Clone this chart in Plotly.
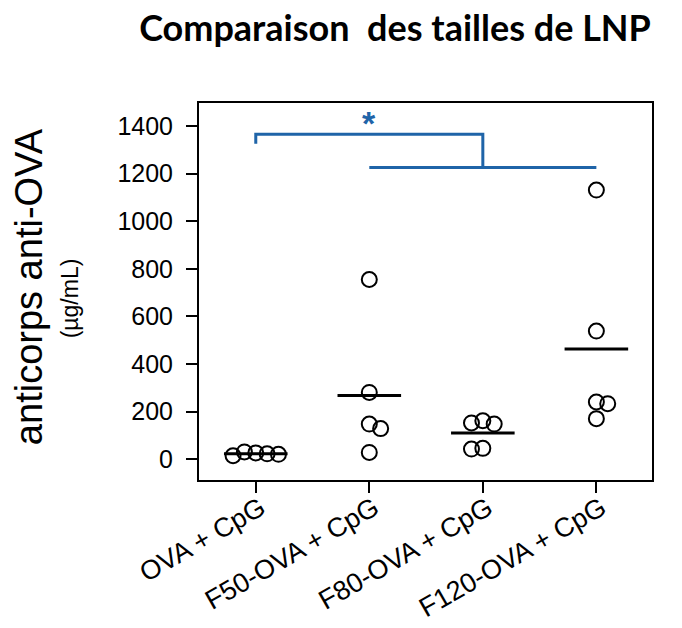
import plotly.graph_objects as go

# ---- data ----
categories = ["OVA + CpG", "F50-OVA + CpG", "F80-OVA + CpG", "F120-OVA + CpG"]
ova_cpg = [14, 30, 26, 22, 20]
f50_ova_cpg = [755, 280, 147, 128, 28]
f80_ova_cpg = [152, 161, 147, 42, 45]
f120_ova_cpg = [1131, 538, 240, 233, 170]
series = [ova_cpg, f50_ova_cpg, f80_ova_cpg, f120_ova_cpg]
# horizontal spread of the dots (in category units)
jitter = [
    [-0.2, -0.1, 0.0, 0.1, 0.2],
    [0.0, 0.0, 0.0, 0.1, 0.0],
    [-0.1, 0.0, 0.1, -0.1, 0.0],
    [0.0, 0.0, 0.0, 0.1, 0.0],
]
y_ticks = [0, 200, 400, 600, 800, 1000, 1200, 1400]
# significance bracket: group 0 vs groups 1..3
sig_left = 0
sig_mid = 2
sig_right_span = [1, 3]
sig_upper = 1366
sig_left_drop = 1326
sig_lower = 1226
sig_label = "*"

BLUE = "#1f64a8"
W, H = 666, 612
fig = go.Figure()

for i, vals in enumerate(series):
    xs = [i + j for j in jitter[i]]
    fig.add_trace(go.Scatter(
        x=xs, y=vals, mode="markers",
        marker=dict(symbol="circle-open", size=15, color="black",
                    line=dict(width=2, color="black")),
        showlegend=False, hoverinfo="y"))
    m = sum(vals) / len(vals)
    fig.add_trace(go.Scatter(
        x=[i - 0.28, i + 0.28], y=[m, m], mode="lines",
        line=dict(color="black", width=3), showlegend=False, hoverinfo="skip"))

# bracket
fig.add_trace(go.Scatter(
    x=[sig_left, sig_left, sig_mid, sig_mid], y=[sig_left_drop, sig_upper, sig_upper, sig_lower],
    mode="lines", line=dict(color=BLUE, width=3), showlegend=False, hoverinfo="skip"))
fig.add_trace(go.Scatter(
    x=sig_right_span, y=[sig_lower, sig_lower],
    mode="lines", line=dict(color=BLUE, width=3), showlegend=False, hoverinfo="skip"))
fig.add_annotation(x=1, y=sig_upper, text="<b>" + sig_label + "</b>", showarrow=False,
                   yanchor="bottom", yshift=-10,
                   font=dict(family="Liberation Sans, Arial", size=34, color=BLUE))

fig.update_layout(
    width=W, height=H,
    margin=dict(l=191, r=22, t=95, b=140, autoexpand=False),
    paper_bgcolor="white", plot_bgcolor="white",
    font=dict(family="Liberation Sans, Arial", color="black"),
    title=dict(text="<b>Comparaison&nbsp; des tailles de LNP</b>", x=387 / W, xanchor="center",
               y=1 - 20 / H, yanchor="middle",
               font=dict(family="Lato", size=36, color="black")),
    xaxis=dict(range=[-0.5, 3.49], tickvals=[0, 1, 2, 3], ticktext=categories,
               tickangle=-30, showline=True, linecolor="black", linewidth=2, mirror=True,
               ticks="outside", ticklen=11, tickwidth=2, tickcolor="black",
               showgrid=False, zeroline=False, automargin=False,
               ticklabelstandoff=-11, ticklabelshift=5,
               tickfont=dict(size=27, family="Liberation Sans, Arial")),
    yaxis=dict(range=[-88, 1497], tickvals=y_ticks,
               showline=True, linecolor="black", linewidth=2, mirror=True,
               ticks="outside", ticklen=11, tickwidth=2, tickcolor="black",
               showgrid=False, zeroline=False, ticklabelstandoff=8, automargin=False,
               tickfont=dict(size=25, family="Liberation Sans, Arial")),
)

fig.add_annotation(xref="paper", yref="paper", x=-0.375, y=0.5, text="anticorps anti-OVA",
                   textangle=-90, showarrow=False, xanchor="center", yanchor="middle",
                   font=dict(size=38, family="Liberation Sans, Arial", color="black"), yshift=4.5)
fig.add_annotation(xref="paper", yref="paper", x=-0.284, y=0.5, text="(µg/mL)",
                   textangle=-90, showarrow=False, xanchor="center", yanchor="middle",
                   font=dict(size=23, family="Liberation Sans, Arial", color="black"), yshift=-6.5)

fig.write_html("out.html")
